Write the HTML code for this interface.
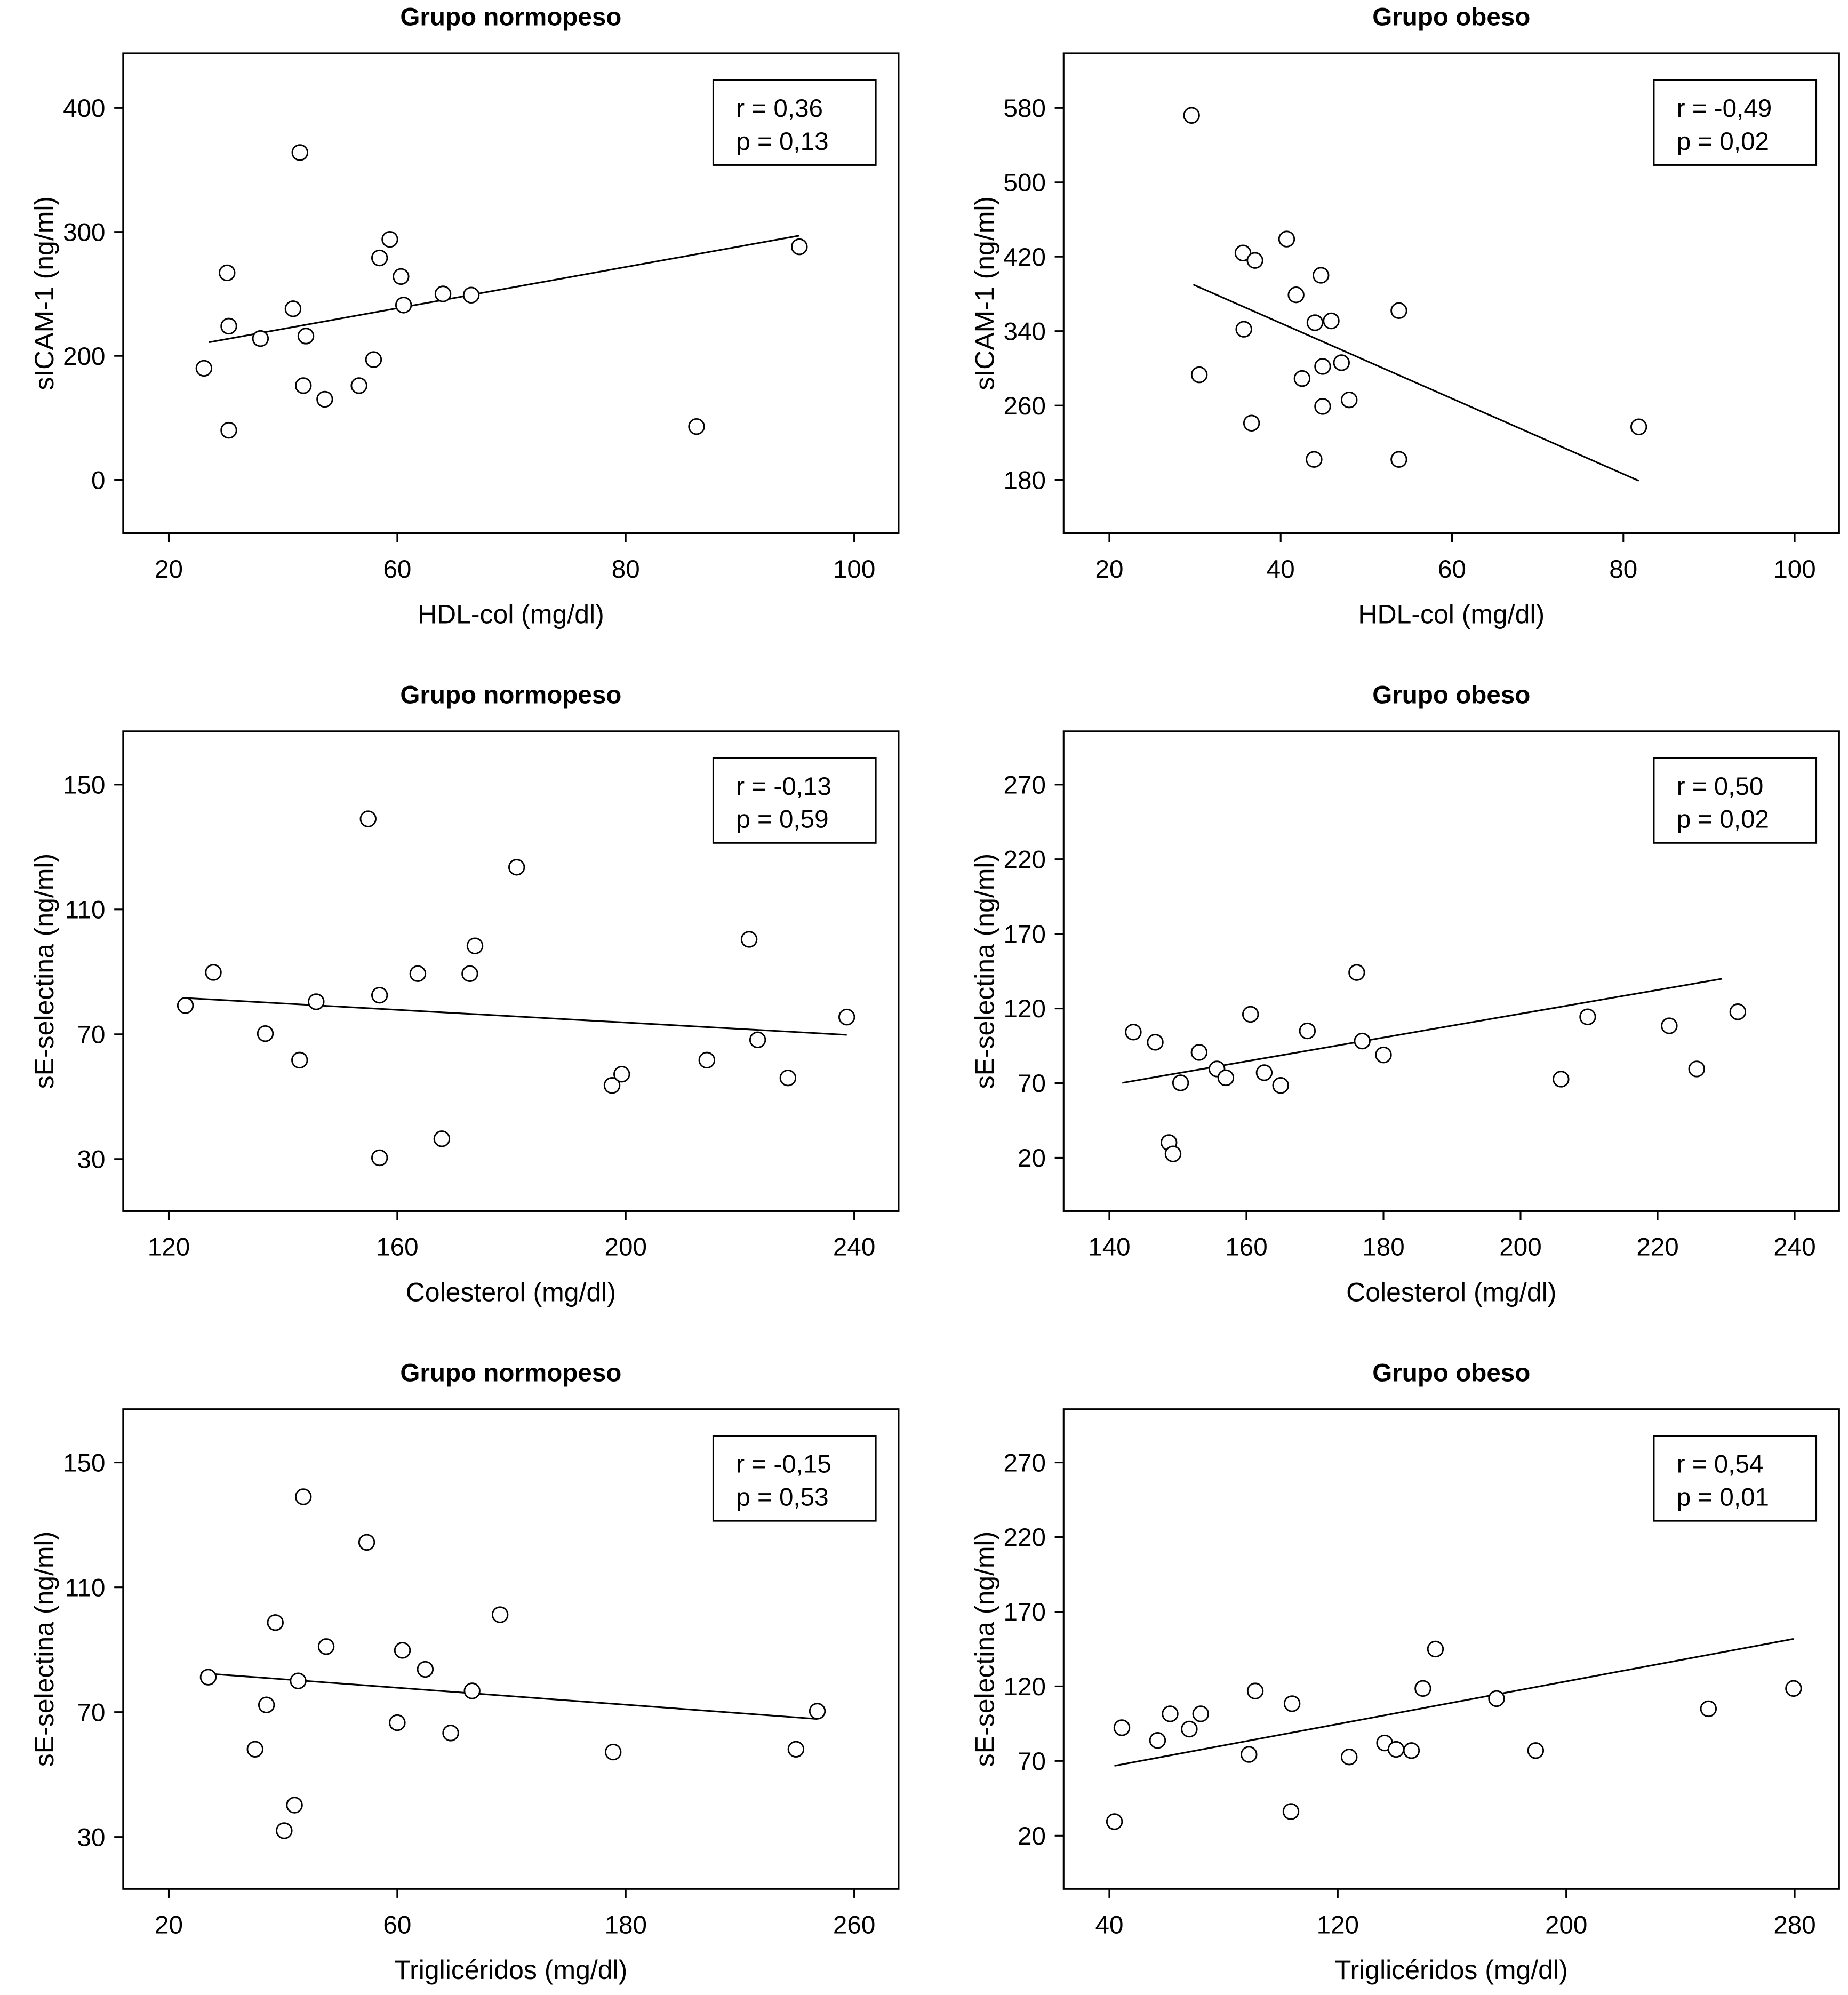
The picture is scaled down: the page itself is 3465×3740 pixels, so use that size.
<!DOCTYPE html>
<html><head><meta charset="utf-8"><style>
html,body{margin:0;padding:0;background:#fff;}
svg{display:block;font-family:"Liberation Sans",Arial,sans-serif;}
</style></head><body>
<svg id="fig" width="3465" height="3740" viewBox="0 0 1456 1571.5" preserveAspectRatio="none" xmlns="http://www.w3.org/2000/svg"></svg>
<script>
// ---- Panel 1: Normopeso, HDL vs sICAM-1 ----
const p1X = [24.1,26.8,27.0,27.0,30.7,34.5,35.3,35.7,36.0,38.2,42.2,43.9,44.6,45.8,47.1,47.4,52.0,55.3,81.6,93.6];
const p1Y = [190,267,224,140,214,238,364,176,216,165,176,197,279,294,264,241,250,249,143,288];
const p1LineX = [24.7,93.6];
const p1LineY = [211,297];
const p1XTicks = [20,46.67,73.33,100];
const p1XLabels = ["20","60","80","100"];
const p1YTicks = [100,200,300,400];
const p1YLabels = ["0","200","300","400"];
// ---- Panel 2: Obeso, HDL vs sICAM-1 ----
const p2X = [29.6,30.5,35.6,35.7,36.6,37.0,40.7,41.8,42.5,43.9,44.0,44.7,44.9,44.9,45.9,47.1,48.0,53.8,53.8,81.8];
const p2Y = [572,293,424,342,241,416,439,379,289,202,349,400,302,259,351,306,266,362,202,237];
const p2LineX = [29.8,81.8];
const p2LineY = [390,179];
const p2XTicks = [20,40,60,80,100];
const p2YTicks = [180,260,340,420,500,580];
// ---- Panel 3: Normopeso, Colesterol vs sE-selectina ----
const p3X = [122.9,127.8,136.9,142.9,145.8,154.9,156.9,156.9,163.6,167.8,172.7,173.6,180.9,197.6,199.3,214.2,221.6,223.1,228.4,238.7];
const p3Y = [79.2,89.8,70.2,61.7,80.4,139.0,82.5,30.4,89.4,36.5,89.4,98.3,123.5,53.6,57.2,61.7,100.4,68.2,56.0,75.5];
const p3LineX = [122.9,238.7];
const p3LineY = [81.6,69.8];
const p3XTicks = [120,160,200,240];
const p3YTicks = [30,70,110,150];
// ---- Panel 4: Obeso, Colesterol vs sE-selectina ----
const p4X = [143.5,146.7,150.4,148.7,149.3,153.1,155.7,157.0,160.6,162.6,165.0,168.9,176.1,176.9,180.0,205.9,209.8,221.7,225.7,231.7];
const p4Y = [104.2,97.4,70.2,30.2,22.6,90.6,79.5,73.6,116.1,77.0,68.5,105.0,144.1,98.2,88.9,72.7,114.4,108.4,79.5,117.8];
const p4LineX = [141.9,229.4];
const p4LineY = [70.2,139.9];
const p4XTicks = [140,160,180,200,220,240];
const p4YTicks = [20,70,120,170,220,270];
// ---- Panel 5: Normopeso, Triglicéridos vs sE-selectina ----
const p5X = [33.8,50.2,54.2,57.3,60.4,64.0,65.3,67.1,75.1,89.3,100,101.8,109.8,118.7,126.2,136,175.6,239.6,247.1];
const p5Y = [81.2,58.1,72.3,98.7,32.0,40.2,80.0,139.0,91.0,124.4,66.6,89.8,83.7,63.3,76.8,101.2,57.2,58.1,70.3];
const p5LineX = [31.1,247.1];
const p5LineY = [82.5,67.8];
const p5XTicks = [20,100,180,260];
const p5XLabels = ["20","60","180","260"];
const p5YTicks = [30,70,110,150];
// ---- Panel 6: Obeso, Triglicéridos vs sE-selectina ----
const p6X = [41.8,44.4,56.9,61.3,68,72,88.9,91.1,103.6,104,124,136.4,140.4,145.8,149.8,154.2,175.6,189.3,249.8,279.6];
const p6Y = [29.4,92.3,83.8,101.6,91.4,101.6,74.4,116.9,36.2,108.4,72.7,82.1,77.8,77.0,118.6,145.0,111.8,77.0,105.0,118.6];
const p6LineX = [41.8,279.6];
const p6LineY = [66.8,151.8];
const p6XTicks = [40,120,200,280];
const p6YTicks = [20,70,120,170,220,270];

const NS="http://www.w3.org/2000/svg";
const svg=document.getElementById('fig');
function mk(tag,attrs,parent){const e=document.createElementNS(NS,tag);for(const k in attrs)e.setAttribute(k,attrs[k]);(parent||svg).appendChild(e);return e;}

const panels=[
 {id:'p1',title:'Grupo normopeso',bx:97,by:42,xs:[20,133,100,673],ys:[100,378,400,85],X:p1X,Y:p1Y,LX:p1LineX,LY:p1LineY,xt:p1XTicks,xl:p1XLabels,yt:p1YTicks,yl:p1YLabels,xT:'HDL-col (mg/dl)',yT:'sICAM-1 (ng/ml)',r:'r = 0,36',p:'p = 0,13'},
 {id:'p2',title:'Grupo obeso',bx:838,by:42,xs:[20,874,100,1414],ys:[180,378,580,85],X:p2X,Y:p2Y,LX:p2LineX,LY:p2LineY,xt:p2XTicks,yt:p2YTicks,xT:'HDL-col (mg/dl)',yT:'sICAM-1 (ng/ml)',r:'r = -0,49',p:'p = 0,02'},
 {id:'p3',title:'Grupo normopeso',bx:97,by:576,xs:[120,133,240,673],ys:[30,913,150,618],X:p3X,Y:p3Y,LX:p3LineX,LY:p3LineY,xt:p3XTicks,yt:p3YTicks,xT:'Colesterol (mg/dl)',yT:'sE-selectina (ng/ml)',r:'r = -0,13',p:'p = 0,59'},
 {id:'p4',title:'Grupo obeso',bx:838,by:576,xs:[140,874,240,1414],ys:[20,912,270,618],X:p4X,Y:p4Y,LX:p4LineX,LY:p4LineY,xt:p4XTicks,yt:p4YTicks,xT:'Colesterol (mg/dl)',yT:'sE-selectina (ng/ml)',r:'r = 0,50',p:'p = 0,02'},
 {id:'p5',title:'Grupo normopeso',bx:97,by:1110,xs:[20,133,260,673],ys:[30,1447,150,1152],X:p5X,Y:p5Y,LX:p5LineX,LY:p5LineY,xt:p5XTicks,xl:p5XLabels,yt:p5YTicks,xT:'Triglicéridos (mg/dl)',yT:'sE-selectina (ng/ml)',r:'r = -0,15',p:'p = 0,53'},
 {id:'p6',title:'Grupo obeso',bx:838,by:1110,xs:[40,874,280,1414],ys:[20,1446,270,1152],X:p6X,Y:p6Y,LX:p6LineX,LY:p6LineY,xt:p6XTicks,yt:p6YTicks,xT:'Triglicéridos (mg/dl)',yT:'sE-selectina (ng/ml)',r:'r = 0,54',p:'p = 0,01'}
];
const W=611,H=378;
panels.forEach(P=>{
 const sx=v=>P.xs[1]+(v-P.xs[0])*(P.xs[3]-P.xs[1])/(P.xs[2]-P.xs[0]);
 const sy=v=>P.ys[1]+(v-P.ys[0])*(P.ys[3]-P.ys[1])/(P.ys[2]-P.ys[0]);
 const g=mk('g',{});
 
 
 const cx=P.bx+W/2;
 const t=mk('text',{x:cx,y:P.by-22,'text-anchor':'middle','font-size':20,'font-weight':'bold'},g);t.textContent=P.title;
 
 const fr=mk('rect',{x:P.bx,y:P.by,width:W,height:H,fill:'none',stroke:'#000','stroke-width':1.3},g);
 
 P.xt.forEach((v,i)=>{const x=sx(v);
  mk('line',{x1:x,x2:x,y1:P.by+H,y2:P.by+H+7,stroke:'#000','stroke-width':1.3},g);
  const tx=mk('text',{x:x,y:P.by+H+35,'text-anchor':'middle','font-size':20},g);
  tx.textContent=P.xl?P.xl[i]:String(v);
  });
 P.yt.forEach((v,i)=>{const y=sy(v);
  mk('line',{x1:P.bx-7,x2:P.bx,y1:y,y2:y,stroke:'#000','stroke-width':1.3},g);
  const ty=mk('text',{x:P.bx-14,y:y+7,'text-anchor':'end','font-size':20},g);
  ty.textContent=P.yl?P.yl[i]:String(v);
  });
 const xa=mk('text',{x:cx,y:P.by+H+71,'text-anchor':'middle','font-size':21},g);xa.textContent=P.xT;
 
 const yx=P.bx-55,yy=P.by+H/2;
 const ya=mk('text',{x:yx,y:yy,'text-anchor':'middle','font-size':21,transform:`rotate(-90 ${yx} ${yy})`},g);ya.textContent=P.yT;
 
 const ln=mk('line',{x1:sx(P.LX[0]),y1:sy(P.LY[0]),x2:sx(P.LX[1]),y2:sy(P.LY[1]),stroke:'#000','stroke-width':1.3},g);
 
 P.X.forEach((v,i)=>{const c=mk('circle',{cx:sx(v),cy:sy(P.Y[i]),r:6,fill:'#fff',stroke:'#000','stroke-width':1.2},g);
  });
 const bx=P.bx+W-146;
 const sb=mk('rect',{x:bx,y:P.by+21,width:128,height:67,fill:'#fff',stroke:'#000','stroke-width':1.3},g);
 
 const r=mk('text',{x:bx+18,y:P.by+50,'font-size':20},g);r.textContent=P.r;
 
 const p=mk('text',{x:bx+18,y:P.by+76,'font-size':20},g);p.textContent=P.p;
 
});
</script>
</body></html>
